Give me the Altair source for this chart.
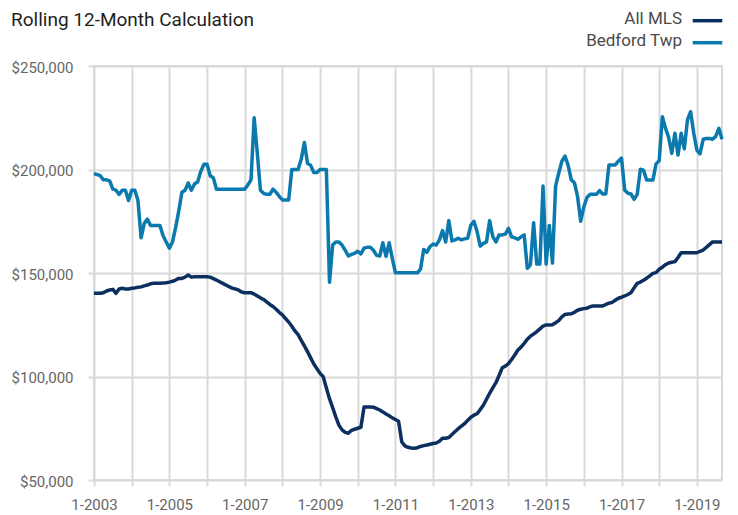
import altair as alt
import pandas as pd

# ---- data (values in $ thousands, monthly from 1-2003 to 9-2019) ----
start_year = 2003
series_names = ["All MLS", "Bedford Twp"]
series_colors = ["#0b2f5f", "#0a79ad"]

all_mls_k = [
    140.2, 140.2, 140.2, 140.5, 141.3, 141.8, 142.1, 140.2, 142.3, 142.6, 142.3, 142.3,
    142.6, 142.8, 143.1, 143.3, 143.8, 144.2, 144.8, 145.0, 145.0, 145.0, 145.2, 145.3,
    145.6, 146.0, 146.6, 147.4, 147.4, 148.0, 149.0, 148.0, 148.2, 148.2, 148.2, 148.2,
    148.2, 148.0, 147.3, 146.6, 145.8, 145.0, 144.2, 143.4, 142.7, 142.3, 141.8, 140.8,
    140.5, 140.5, 140.5, 139.8, 138.9, 138.0, 137.2, 136.0, 134.8, 133.8, 132.5, 131.0,
    129.8, 128.0, 126.3, 124.3, 122.0, 120.2, 117.5, 114.8, 112.0, 109.0, 106.0, 103.8,
    101.5, 99.9, 94.5, 89.3, 85.0, 80.5, 76.5, 74.2, 73.0, 72.6, 74.0, 74.5,
    75.0, 75.5, 85.3, 85.3, 85.3, 85.2, 84.5, 83.8, 82.9, 81.9, 81.0, 80.0,
    79.2, 78.4, 68.5, 66.5, 65.8, 65.5, 65.3, 65.6, 66.2, 66.6, 66.9, 67.3,
    67.6, 67.9, 68.7, 70.2, 70.2, 70.5, 72.0, 73.4, 74.8, 76.0, 77.2, 78.8,
    80.3, 81.3, 82.0, 84.0, 86.1, 89.0, 91.9, 94.5, 97.0, 100.5, 104.2, 105.0,
    106.2, 108.2, 110.4, 112.8, 114.2, 116.0, 118.0, 119.5, 120.5, 121.7, 123.0, 124.3,
    124.9, 124.9, 125.0, 126.0, 127.0, 128.8, 130.0, 130.2, 130.3, 131.0, 132.0, 132.5,
    132.8, 133.0, 133.7, 134.1, 134.1, 134.1, 134.1, 134.8, 135.4, 135.8, 136.8, 137.8,
    138.3, 138.9, 139.6, 140.5, 142.8, 145.0, 145.6, 146.5, 147.5, 148.6, 149.8, 150.2,
    151.8, 152.8, 154.0, 154.8, 155.2, 155.5, 157.5, 159.8, 159.8, 159.8, 159.8, 159.8,
    159.8, 160.5, 161.1, 162.4, 163.7, 165.0, 165.0, 165.0, 165.0,
]

bedford_k = [
    198.0, 197.5, 197.0, 195.0, 195.0, 194.5, 190.5, 190.0, 188.0, 190.0, 190.0, 185.0,
    190.0, 190.0, 185.0, 167.0, 174.0, 176.0, 173.0, 173.0, 173.0, 173.0, 168.0, 165.0,
    162.0, 165.0, 172.0, 180.0, 189.0, 190.0, 193.5, 190.0, 193.0, 194.0, 199.0, 202.5,
    202.5, 197.0, 196.0, 190.5, 190.5, 190.5, 190.5, 190.5, 190.5, 190.5, 190.5, 190.5,
    190.5, 192.5, 195.0, 225.0, 208.0, 190.0, 188.5, 188.0, 188.0, 190.5, 189.0, 187.0,
    185.3, 185.3, 185.3, 200.0, 200.0, 200.0, 205.0, 213.0, 203.0, 202.0, 198.5, 198.5,
    200.0, 200.0, 200.0, 145.5, 163.5, 165.0, 165.0, 163.5, 161.0, 158.2, 159.0, 159.5,
    160.5, 159.2, 162.0, 162.4, 162.4, 161.0, 158.5, 158.2, 164.6, 158.0, 164.6, 157.0,
    150.1, 150.1, 150.1, 150.1, 150.1, 150.1, 150.1, 150.1, 152.0, 161.4, 160.0, 162.7,
    164.0, 163.5, 166.0, 170.5, 165.0, 175.3, 165.5, 166.0, 166.8, 166.0, 166.5, 166.8,
    173.0, 175.0, 170.0, 163.0, 164.3, 165.0, 175.3, 167.6, 165.0, 168.4, 168.4, 168.8,
    171.6, 167.5, 167.0, 166.3, 167.5, 168.4, 152.3, 154.0, 174.3, 154.3, 154.3, 192.0,
    154.3, 173.0, 154.8, 192.0, 198.2, 204.0, 206.5, 202.0, 195.0, 193.6, 187.0, 175.0,
    182.0, 186.5, 188.0, 188.0, 188.0, 189.8, 188.2, 188.2, 202.2, 202.2, 202.2, 204.0,
    205.5, 190.1, 188.5, 188.2, 185.6, 188.0, 200.1, 199.7, 194.9, 194.9, 194.9, 202.7,
    204.3, 225.5, 220.0, 215.5, 207.8, 217.5, 207.0, 217.5, 210.0, 224.0, 227.9, 217.5,
    209.4, 207.5, 214.6, 215.0, 215.0, 214.6, 216.0, 219.9, 214.6,
]

y_ticks = [50000, 100000, 150000, 200000, 250000]
x_tick_months = list(range(0, 193, 12))

rows = []
for name, vals in zip(series_names, [all_mls_k, bedford_k]):
    for i, v in enumerate(vals):
        rows.append({"m": i, "value": v * 1000, "series": name})
df = pd.DataFrame(rows)
last_m = len(all_mls_k) - 1

W, H = 628, 414
FONT = "Roboto"
GRID = "#d9d9d9"

label_expr = ("datum.value % 24 == 0 ? '1-' + (" + str(start_year)
              + " + datum.value / 12) : ''")

lines = alt.Chart(df).mark_line(strokeWidth=3.5, strokeJoin="round").encode(
    x=alt.X(
        "m:Q",
        scale=alt.Scale(domain=[0, last_m], nice=False, zero=False),
        axis=alt.Axis(
            values=x_tick_months,
            labelExpr=label_expr,
            title=None,
            grid=True,
            labelFlush=False,
            labelOverlap=False,
            labelPadding=11,
        ),
    ),
    y=alt.Y(
        "value:Q",
        scale=alt.Scale(domain=[50000, 250000], nice=False, zero=False),
        axis=alt.Axis(values=y_ticks, format="$,.0f", title=None, grid=True,
                      labelPadding=15, labelBaseline="middle", labelOffset=1),
    ),
    color=alt.Color("series:N", scale=alt.Scale(domain=series_names, range=series_colors), legend=None),
)

title = alt.Chart(pd.DataFrame({"t": ["Rolling 12-Month Calculation"]})).mark_text(
    align="left", baseline="alphabetic", font=FONT, fontSize=19, color="#1f1f1f"
).encode(x=alt.value(-83), y=alt.value(-40), text="t:N")

layers = [lines, title]
for i, (name, col) in enumerate(zip(series_names, series_colors)):
    d = pd.DataFrame({"s": [name]})
    layers.append(
        alt.Chart(d).mark_text(align="right", baseline="alphabetic", font=FONT,
                               fontSize=17, color="#4a4a4a").encode(
            x=alt.value(588), y=alt.value(-41.7 + 22 * i), text="s:N")
    )
    layers.append(
        alt.Chart(d).mark_rule(strokeWidth=3.5, color=col).encode(
            x=alt.value(598.7), x2=alt.value(628.3), y=alt.value(-45.3 + 22 * i))
    )

chart = alt.layer(*layers).properties(
    width=W, height=H,
    autosize=alt.AutoSizeParams(type="none"),
    padding={"left": 86, "top": 58, "right": 8, "bottom": 36},
).configure_view(
    stroke=GRID, strokeWidth=2
).configure_axis(
    domain=False,
    gridColor=GRID, gridWidth=2,
    tickColor=GRID, tickWidth=2, tickSize=6,
    labelFont=FONT, labelFontSize=15, labelColor="#666666",
)

chart.save("out.html", embed_options={"renderer": "svg", "actions": False})
